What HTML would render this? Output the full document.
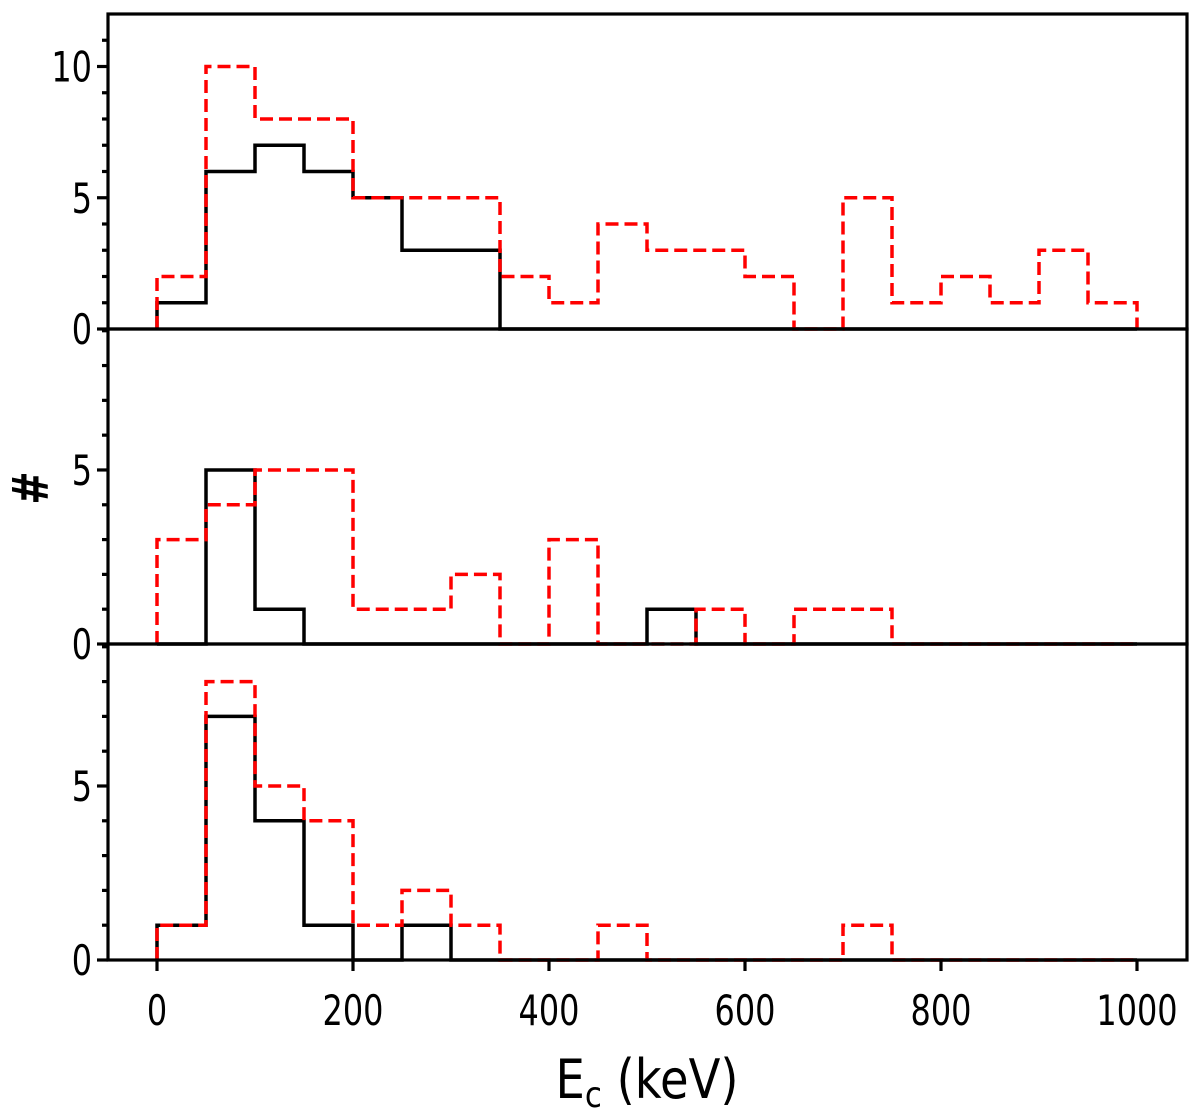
<!DOCTYPE html>
<html><head><meta charset="utf-8"><style>
html,body{margin:0;padding:0;background:#fff;}
svg{display:block;}
text{font-family:"DejaVu Sans","Liberation Sans",sans-serif;fill:#000;}
</style></head><body>
<svg id="chart" width="1200" height="1117" viewBox="0 0 1200 1117" xmlns="http://www.w3.org/2000/svg">
<g id="marks"></g>
<g id="axes"></g>
<text x="0" y="0" font-size="50" font-weight="bold" text-anchor="middle" transform="translate(48,488) rotate(-90) scale(0.8,1)">#</text>
<text x="0" y="0" font-size="54" text-anchor="middle" transform="translate(647,1098) scale(0.86,1)">E<tspan font-size="36" dy="9">c</tspan><tspan dy="-9"> (keV)</tspan></text>
</svg>
<script>
const binEdgesStart = 0;
const binWidth = 50;
const p1Black = [1,6,7,6,5,3,3,0,0,0,0,0,0,0,0,0,0,0,0,0];
const p1Red = [2,10,8,8,5,5,5,2,1,4,3,3,2,0,5,1,2,1,3,1];
const p2Black = [0,5,1,0,0,0,0,0,0,0,1,0,0,0,0,0,0,0,0,0];
const p2Red = [3,4,5,5,1,1,2,0,3,0,0,1,0,1,1,0,0,0,0,0];
const p3Black = [1,7,4,1,0,1,0,0,0,0,0,0,0,0,0,0,0,0,0,0];
const p3Red = [1,8,5,4,1,2,1,0,0,1,0,0,0,0,1,0,0,0,0,0];
const xTicks = [0,200,400,600,800,1000];
const p1YTicks = [0,5,10];
const p23YTicks = [0,5];

const NS='http://www.w3.org/2000/svg';
const L=108,R=1187;
const xs=v=>157+(v-0)*0.98;
const panels=[
 {top:14,bot:329,ymax:12,black:p1Black,red:p1Red,ticks:p1YTicks,name:'top'},
 {top:329,bot:644,ymax:9.05,black:p2Black,red:p2Red,ticks:p23YTicks,name:'middle'},
 {top:644,bot:960,ymax:9.08,black:p3Black,red:p3Red,ticks:p23YTicks,name:'bottom'}
];
const marks=document.getElementById('marks'), axes=document.getElementById('axes');
function mk(tag,attrs,parent){const e=document.createElementNS(NS,tag);for(const k in attrs)e.setAttribute(k,attrs[k]);parent.appendChild(e);return e;}
function stepPath(vals,ys){
 let d='M'+xs(binEdgesStart)+','+ys(0);
 vals.forEach((v,i)=>{const a=binEdgesStart+i*binWidth,b=a+binWidth;d+=' L'+xs(a)+','+ys(v)+' L'+xs(b)+','+ys(v);});
 d+=' L'+xs(binEdgesStart+vals.length*binWidth)+','+ys(0);
 return d;
}
panels.forEach(p=>{
 const ys=v=>p.bot-v*(p.bot-p.top)/p.ymax;
 const b=mk('path',{d:stepPath(p.black,ys),fill:'none',stroke:'#000','stroke-width':3.5},marks);
 
 
 const r=mk('path',{d:stepPath(p.red,ys),fill:'none',stroke:'#ff0000','stroke-width':3.5,'stroke-dasharray':'13,6'},marks);
 
 
 const fr=mk('rect',{x:L,y:p.top,width:R-L,height:p.bot-p.top,fill:'none',stroke:'#000','stroke-width':3.2},axes);
 
 
 for(let v=0;v<p.ymax;v++){
  const major=p.ticks.includes(v);
  const t=mk('line',{x1:L-(major?11:6),x2:L,y1:ys(v),y2:ys(v),stroke:'#000','stroke-width':3.2},axes);
  
  
 }
 p.ticks.forEach(v=>{
  const tx=mk('text',{x:0,y:0,'font-size':42,'text-anchor':'end',transform:'translate(92,'+(ys(v)+15)+') scale(0.76,1)'},axes);
  tx.textContent=v;
  
  
 });
});
xTicks.forEach(v=>{
 const t=mk('line',{x1:xs(v),x2:xs(v),y1:960,y2:971,stroke:'#000','stroke-width':3.2},axes);
 
 
 const tx=mk('text',{x:0,y:0,'font-size':42,'text-anchor':'middle',transform:'translate('+xs(v)+',1025) scale(0.76,1)'},axes);
 tx.textContent=v;
 
 
});
</script>
</body></html>
